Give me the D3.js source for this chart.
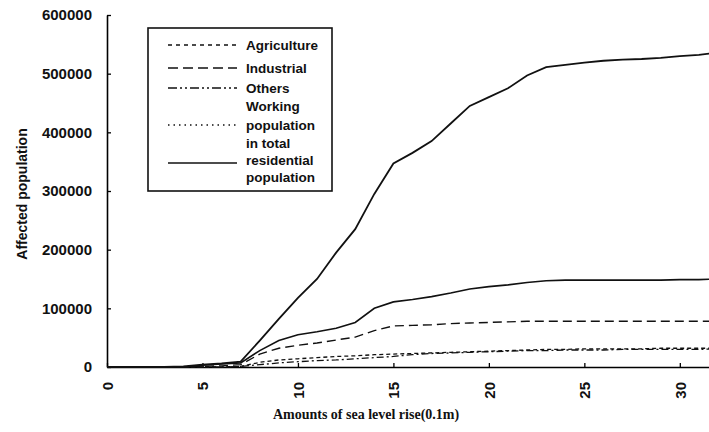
<!DOCTYPE html>
<html lang="en">
<head>
    <meta charset="UTF-8">
    <title>Affected population</title>
    <script src="https://d3js.org/d3.v7.min.js"></script>
    <style>
        body { margin: 0; background: #fff; }
        text { font-family: 'Liberation Sans', Arial, sans-serif; font-weight: bold; fill: #111; }
        .xtitle { font-family: 'Liberation Serif', 'Times New Roman', serif; }
    </style>
</head>
<body>
<script>
    const width  = 709;
    const height = 432;

    // sea level rise, in units of 0.1 m
    const rise = d3.range(0, 33);

    const totalResidential = [0, 0, 0, 0, 1000, 4000, 6000, 9000, 45000, 82000, 118000,
        150000, 195000, 235000, 295000, 347000, 365000, 385000, 415000, 445000, 460000,
        475000, 497000, 511000, 515000, 519000, 522000, 524000, 525000, 527000, 530000, 532000, 536000];
    const working = [0, 0, 0, 0, 0, 3000, 5000, 7000, 28000, 45000, 55000,
        60000, 66000, 76000, 100000, 111000, 115000, 120000, 126000, 133000, 137000,
        140000, 144000, 147000, 148000, 148000, 148000, 148000, 148000, 148000, 149000, 149000, 150000];
    const industrial = [0, 0, 0, 0, 0, 1000, 2000, 4000, 22000, 32000, 37000,
        41000, 46000, 51000, 62000, 70000, 71000, 72000, 74000, 75000, 76000,
        77000, 78000, 78000, 78000, 78000, 78000, 78000, 78000, 78000, 78000, 78000, 78000];
    const agriculture = [0, 0, 0, 0, 0, 0, 0, 1000, 8000, 12000, 14000,
        16000, 18000, 19000, 21000, 22000, 23000, 24000, 25000, 26000, 27000,
        28000, 29000, 30000, 30000, 31000, 31000, 31000, 31000, 32000, 32000, 32000, 32000];
    const others = [0, 0, 0, 0, 0, 0, 0, 1000, 4000, 7000, 9000,
        11000, 12000, 14000, 16000, 18000, 21000, 23000, 24000, 25000, 26000,
        27000, 28000, 28000, 29000, 29000, 29000, 30000, 30000, 30000, 30000, 30000, 31000];

    const xTicks = [0, 5, 10, 15, 20, 25, 30];
    const yTicks = [0, 100000, 200000, 300000, 400000, 500000, 600000];

    const series = [
        {name: "Agriculture", values: agriculture, dash: "4,3", w: 1.3},
        {name: "Industrial", values: industrial, dash: "9,5", w: 1.4},
        {name: "Others", values: others, dash: "7,3,2,3", w: 1.3},
        {name: "Working population", values: working, dash: null, w: 1.6},
        {name: "Total residential population", values: totalResidential, dash: null, w: 1.8}
    ];

    const legendRows = [
        {label: "Agriculture", dash: "4,4"},
        {label: "Industrial", dash: "10,5"},
        {label: "Others", dash: "9,3,2,3,2,3"},
        {label: "Working", dash: null, noLine: true},
        {label: "population", dash: "1.5,4"},
        {label: "in total", dash: null, noLine: true},
        {label: "residential", dash: null},
        {label: "population", dash: null, noLine: true}
    ];

    const x = d3.scaleLinear().domain([0, 32]).range([107, 718]);
    const y = d3.scaleLinear().domain([0, 600000]).range([367, 15]);

    const svg = d3.select("body").append("svg")
        .attr("width", width)
        .attr("height", height);

    svg.append("rect").attr("width", width).attr("height", height).attr("fill", "#fff");

    // axes
    const yAxis = svg.append("g")
        .attr("transform", "translate(107,0)")
        .call(d3.axisLeft(y).tickValues(yTicks).tickFormat(d3.format("d"))
            .tickSizeInner(-4).tickSizeOuter(0).tickPadding(15));
    yAxis.select(".domain").attr("stroke-width", 1.6);
    yAxis.selectAll("line").attr("stroke-width", 1.3);
    yAxis.selectAll("text").style("font-size", "15px");

    const xAxis = svg.append("g")
        .attr("transform", "translate(0,367)")
        .call(d3.axisBottom(x).tickValues(xTicks)
            .tickSizeInner(-4).tickSizeOuter(0));
    xAxis.select(".domain").attr("stroke-width", 1.4);
    xAxis.selectAll("line").attr("stroke-width", 1.3);
    xAxis.selectAll("text")
        .attr("x", 0).attr("y", 0).attr("dy", "0.35em")
        .attr("transform", "translate(0,15) rotate(-90)")
        .style("text-anchor", "end")
        .style("font-size", "15px");

    // titles
    svg.append("text")
        .attr("class", "xtitle")
        .attr("x", 366).attr("y", 419)
        .attr("text-anchor", "middle")
        .style("font-size", "14px")
        .text("Amounts of sea level rise(0.1m)");

    svg.append("text")
        .attr("transform", "translate(27,194) rotate(-90)")
        .attr("text-anchor", "middle")
        .style("font-size", "14px")
        .text("Affected population");

    // lines
    const line = d3.line()
        .x((d, i) => x(rise[i]))
        .y(d => y(d));

    svg.append("g").selectAll("path")
        .data(series)
        .enter().append("path")
        .attr("d", d => line(d.values))
        .attr("fill", "none")
        .attr("stroke", "#111")
        .attr("stroke-width", d => d.w)
        .attr("stroke-dasharray", d => d.dash);

    // legend
    const legend = svg.append("g").attr("class", "legend");
    legend.append("rect")
        .attr("x", 148).attr("y", 28)
        .attr("width", 184).attr("height", 163)
        .attr("fill", "#fff")
        .attr("stroke", "#111")
        .attr("stroke-width", 1.6);

    const rowY = [45, 68, 88, 106, 125, 143, 160, 177];

    legend.selectAll("line")
        .data(legendRows.filter(d => !d.noLine))
        .enter().append("line")
        .attr("x1", 168).attr("x2", 237)
        .attr("y1", d => rowY[legendRows.indexOf(d)] + (d.label === "residential" ? 3 : 0))
        .attr("y2", d => rowY[legendRows.indexOf(d)] + (d.label === "residential" ? 3 : 0))
        .attr("stroke", "#111")
        .attr("stroke-width", d => d.dash ? 1.3 : 1.6)
        .attr("stroke-dasharray", d => d.dash);

    legend.selectAll("text")
        .data(legendRows)
        .enter().append("text")
        .attr("x", 246)
        .attr("y", (d, i) => rowY[i])
        .attr("dy", "0.35em")
        .style("font-size", "13.5px")
        .text(d => d.label);
</script>
</body>
</html>
